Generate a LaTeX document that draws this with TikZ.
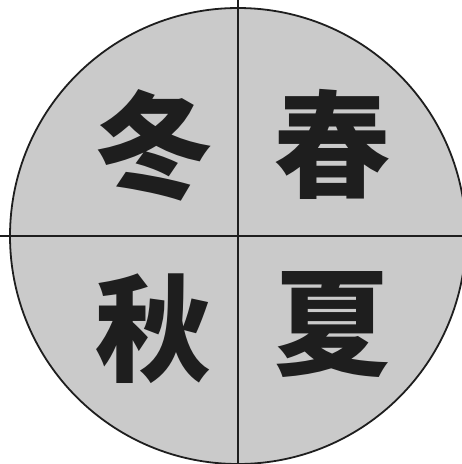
\documentclass[tikz,border=0pt]{standalone}
\usepackage{fontspec}
\newfontfamily\cjk{Noto Sans CJK JP}[BoldFont={* Black}]
\definecolor{discgray}{RGB}{202,202,202}
\definecolor{inkline}{RGB}{30,30,30}
\begin{document}
\begin{tikzpicture}[x=1pt,y=-1pt,
  season/.style={inner sep=0pt, outer sep=0pt, text=inkline, font=\cjk\bfseries\fontsize{116pt}{116pt}\selectfont},
  rim/.style={draw=inkline, line width=1.8pt, fill=discgray},
  axis/.style={draw=inkline, line width=1.5pt}]
\useasboundingbox (0,0) rectangle (462,464);
\fill[white] (0,0) rectangle (462,464);
\node[rim, circle, minimum size=456pt, inner sep=0pt] (disc) at (238,236) {};
\coordinate (top) at (238,0);
\coordinate (bot) at (238,464);
\coordinate (lft) at (0,236);
\coordinate (rgt) at (462,236);
\draw[axis] (top) -- (bot);
\draw[axis] (lft) -- (rgt);
\node[season] (winter) at (154,145) {冬};
\node[season] (spring) at (332,144) {春};
\node[season] (autumn) at (153,329) {秋};
\node[season] (summer) at (332,325) {夏};
\end{tikzpicture}
\end{document}
